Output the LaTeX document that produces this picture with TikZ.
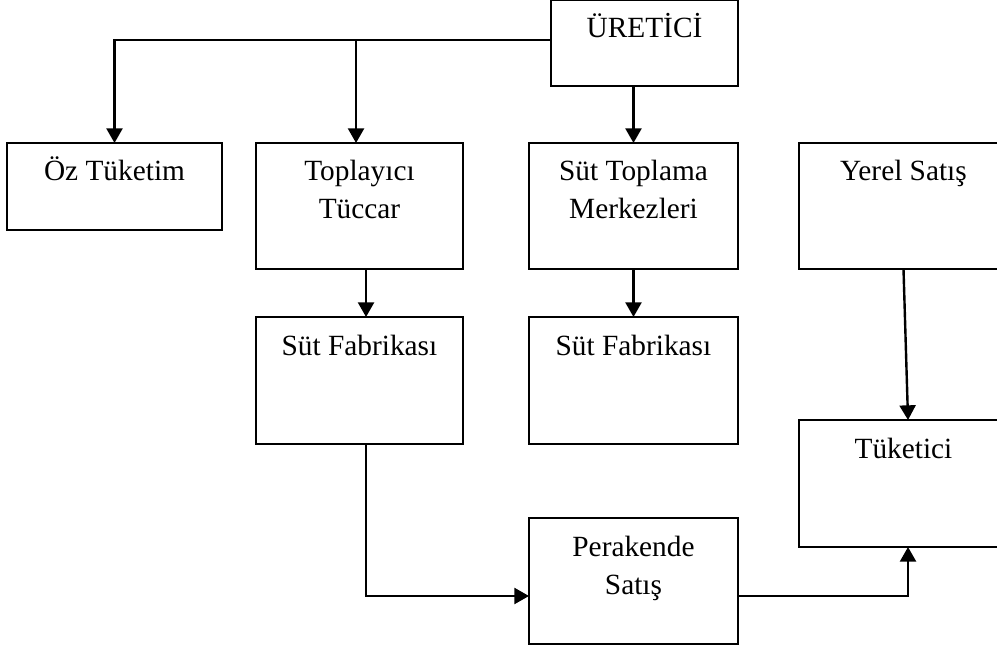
\documentclass[tikz,border=0pt]{standalone}
\usepackage{fontspec}
\setmainfont{Liberation Serif}
\usetikzlibrary{arrows.meta}
\newlength\pxu
\setlength\pxu{0.75pt}
\newcommand{\kutu}[3]{\parbox[c][#2\pxu][t]{#1\pxu}{\centering\rule{0pt}{38\pxu}#3}}

\begin{document}
\begin{tikzpicture}[x=0.75pt,y=-0.75pt]
  \tikzset{blok/.style={draw,line width=1.5pt,inner sep=0pt,outer sep=0pt,font=\fontsize{22}{28.5}\selectfont},
    ok/.style={line width=1.8pt,-{Triangle[length=11pt,width=12pt]}}}
  \useasboundingbox (0,0) rectangle (997,649);
  \node(uretici)[blok] at (644.5,43) {\kutu{187}{86}{ÜRETİCİ}};
  \node(oz)[blok] at (114.5,186.5) {\kutu{215}{87}{Öz Tüketim}};
  \node(toplayici)[blok] at (359.5,206) {\kutu{207}{126}{Toplayıcı\\Tüccar}};
  \node(merkez)[blok] at (633.5,206) {\kutu{209}{126}{Süt Toplama\\Merkezleri}};
  \node(yerel)[blok] at (903.5,206) {\kutu{209}{126}{Yerel Satış}};
  \node(fab1)[blok] at (359.5,380.5) {\kutu{207}{127}{Süt Fabrikası}};
  \node(fab2)[blok] at (633.5,380.5) {\kutu{209}{127}{Süt Fabrikası}};
  \node(tuketici)[blok] at (903.5,483.5) {\kutu{209}{127}{Tüketici}};
  \node(perakende)[blok] at (633.5,581) {\kutu{209}{126}{Perakende\\Satış}};
  % ureticiden dagilim
  \draw[ok] ([yshift=2.25pt]uretici.west) -| (oz.north);
  \draw[ok] ([xshift=-2.6pt,yshift=2.25pt]toplayici.north |- uretici.west) -- ([xshift=-2.6pt]toplayici.north);
  \draw[ok] (merkez.north |- uretici.south) -- (merkez.north);
  \draw[ok] ([xshift=4.9pt]toplayici.south) -- ([xshift=4.9pt]fab1.north);
  \draw[ok] (merkez.south) -- (fab2.north);
  \draw[ok] (yerel.south) -- ([xshift=3.4pt]tuketici.north);
  % perakende yolu
  \draw[ok] ([xshift=4.9pt]fab1.south) |- ([yshift=-11.25pt]perakende.west);
  \draw[ok] ([yshift=-11.25pt]perakende.east) -| ([xshift=3.4pt]tuketici.south);
\end{tikzpicture}
\end{document}
